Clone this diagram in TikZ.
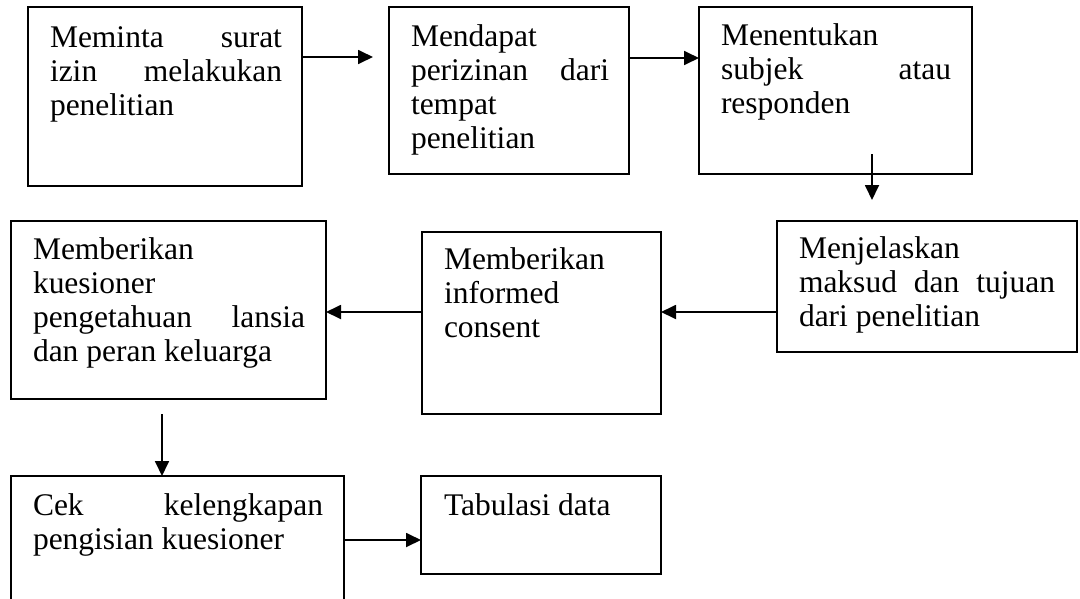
\documentclass[tikz,border=0pt]{standalone}
\usepackage{fontspec}
\setmainfont{Liberation Serif}
\usetikzlibrary{arrows.meta}
\tikzset{
  box/.style={draw, line width=1.6pt, anchor=north west, inner sep=0pt, outer sep=0pt},
  txt/.style={anchor=base west, inner sep=0pt, outer sep=0pt, align=justify,
    font=\fontsize{31.5}{34}\selectfont},
  arr/.style={line width=1.8pt, -{Triangle[length=15pt,width=14pt]}},
}
\begin{document}
\begin{tikzpicture}[x=1pt,y=-1pt]
\useasboundingbox (0,0) rectangle (1080,598);
\clip (0,0) rectangle (1080,598);
\hyphenpenalty=10000
% boxes
\node[box, minimum width=274pt, minimum height=179pt] (b1) at (28,7) {};
\node[box, minimum width=240pt, minimum height=167pt] (b2) at (389,7) {};
\node[box, minimum width=273pt, minimum height=167pt] (b3) at (699,7) {};
\node[box, minimum width=300pt, minimum height=131pt] (b4) at (777,221) {};
\node[box, minimum width=239pt, minimum height=182pt] (b5) at (422,232) {};
\node[box, minimum width=315pt, minimum height=178pt] (b6) at (11,221) {};
\node[box, minimum width=333pt, minimum height=170pt] (b7) at (11,476) {};
\node[box, minimum width=240pt, minimum height=98pt] (b8) at (421,476) {};
% texts
\node[txt, text width=232pt] (t1) at (50,47) {Meminta surat\linebreak izin melakukan\linebreak penelitian};
\node[txt, text width=198pt] (t2) at (411,46) {Mendapat\newline perizinan dari\linebreak tempat\newline penelitian};
\node[txt, text width=230pt] (t3) at (721,45) {Menentukan\newline subjek atau\linebreak responden};
\node[txt, text width=256pt] (t4) at (799,258) {Menjelaskan\newline maksud dan tujuan\linebreak dari penelitian};
\node[txt, text width=195pt] (t5) at (444,269) {Memberikan\newline informed\newline consent};
\node[txt, text width=272pt] (t6) at (33,259) {Memberikan\newline kuesioner\newline pengetahuan lansia\linebreak dan peran keluarga};
\node[txt, text width=290pt] (t7) at (33,515) {Cek kelengkapan\linebreak pengisian kuesioner};
\node[txt, text width=196pt] (t8) at (444,515) {Tabulasi data};
% helper coordinates
\coordinate (r1) at (0,57);
\coordinate (r2) at (0,58);
\coordinate (r3) at (0,312);
\coordinate (r4) at (0,540);
\coordinate (a1e) at (373,57);
\coordinate (a3s) at (872,154);
\coordinate (a3e) at (872,200);
\coordinate (a6s) at (162,414);
% connectors
\draw[arr] (b1.east |- r1) -- (a1e);
\draw[arr] (b2.east |- r2) -- (b3.west |- r2);
\draw[arr] (a3s) -- (a3e);
\draw[arr] (b4.west |- r3) -- (b5.east |- r3);
\draw[arr] (b5.west |- r3) -- (b6.east |- r3);
\draw[arr] (a6s) -- (a6s |- b7.north);
\draw[arr] (b7.east |- r4) -- (b8.west |- r4);
\end{tikzpicture}
\end{document}
